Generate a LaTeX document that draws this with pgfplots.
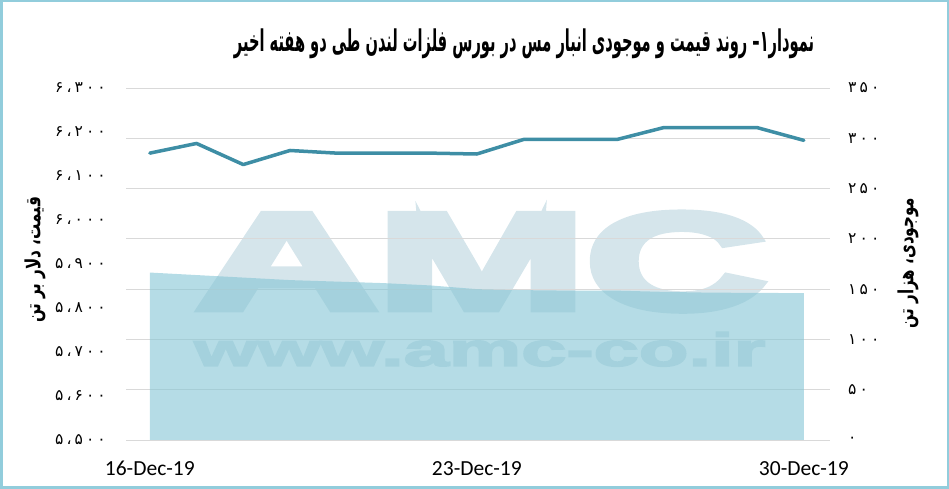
\documentclass[border=0pt]{standalone}
\usepackage{pgfplots}
\pgfplotsset{compat=1.18}
\usepackage{fontspec}
\setmainfont{Carlito}
\newfontfamily\arabicfont[Script=Arabic]{DejaVu Sans}
\newfontfamily\numfont[LetterSpace=20]{DejaVu Sans}
\newfontfamily\wmfont[FakeBold=5]{Liberation Sans Bold}
\newfontfamily\wmfontb[FakeBold=3]{Liberation Sans Bold}
\TeXXeTstate=1
\definecolor{linec}{RGB}{62,142,165}
\definecolor{areac}{RGB}{132,197,213}
\definecolor{gridc}{RGB}{217,217,217}
\definecolor{wmc}{RGB}{213,229,235}
\definecolor{framec}{RGB}{146,205,220}
\pgfplotstableread{
x price stock
0 6152 166.5
1 6174 164
2 6126 161.5
3 6158 159
4 6152 157.5
5 6152 156
6 6152 153.7
7 6150 150
8 6183 149
9 6183 148.5
10 6183 148.5
11 6210 147.3
12 6210 146.5
13 6210 146.3
14 6181 146
}\datatable
\begin{document}
\begin{tikzpicture}
% watermark
\node[anchor=base west, inner sep=0, text=wmc] at (196bp,180bp) {\resizebox{570bp}{96bp}{\wmfont AMC}};
\node[anchor=base west, inner sep=0, text=wmc] at (194bp,123bp) {\resizebox{571bp}{34bp}{\wmfontb www.amc-co.ir}};
% right axis: stock (area) with grid
\begin{axis}[at={(126bp,49bp)}, anchor=south west, scale only axis,
  width=704bp, height=352bp,
  xmin=-0.51, xmax=14.56, ymin=0, ymax=350,
  xtick=\empty,
  ytick={0,50,...,350},
  yticklabels={۰,۵۰,۱۰۰,۱۵۰,۲۰۰,۲۵۰,۳۰۰,۳۵۰},
  yticklabel pos=right,
  yticklabel style={anchor=west, inner sep=0pt, xshift=18bp, font=\numfont\fontsize{15.5bp}{17bp}\selectfont},
  ymajorgrids, grid style={gridc, line width=0.8bp},
  axis line style={draw=none}, major tick length=0pt,
  clip=false]
\addplot[draw=none, fill=areac, fill opacity=0.6] table[x=x, y=stock] {\datatable} \closedcycle;
\end{axis}
% left axis: price (line)
\begin{axis}[at={(126bp,49bp)}, anchor=south west, scale only axis,
  width=704bp, height=352bp,
  xmin=-0.51, xmax=14.56, ymin=5500, ymax=6300,
  xtick={0,7,14}, xticklabels={16-Dec-19,23-Dec-19,30-Dec-19},
  xticklabel style={anchor=base, inner sep=0pt, yshift=-35bp, font=\fontsize{21.5bp}{24bp}\selectfont},
  ytick={5500,5600,...,6300},
  yticklabels={۵،۵۰۰,۵،۶۰۰,۵،۷۰۰,۵،۸۰۰,۵،۹۰۰,۶،۰۰۰,۶،۱۰۰,۶،۲۰۰,۶،۳۰۰},
  yticklabel style={anchor=east, inner sep=0pt, xshift=-20bp, font=\numfont\fontsize{15.5bp}{17bp}\selectfont},
  axis line style={draw=none}, major tick length=0pt,
  clip=false]
\addplot[linec, line width=3.5bp, line cap=round, line join=round] table[x=x, y=price] {\datatable};
\end{axis}
% titles
\node at (524bp,445bp) {\resizebox*{580bp}{30bp}{\arabicfont\bfseries\beginR نمودار۱– روند قیمت و موجودی انبار مس در بورس فلزات لندن طی دو هفته اخیر\endR}};
\node[rotate=90] at (35bp,229bp) {\resizebox*{126bp}{21bp}{\arabicfont\bfseries\beginR قیمت، دلار بر تن\endR}};
\node[rotate=90] at (908bp,226bp) {\resizebox*{130bp}{21bp}{\arabicfont\bfseries\beginR موجودی، هزار تن\endR}};
% frame
\draw[framec, line width=2.5bp] (1.25bp,1.25bp) rectangle (947.75bp,487.75bp);
\pgfresetboundingbox
\useasboundingbox (0,0) rectangle (949bp,489bp);
\end{tikzpicture}
\end{document}
